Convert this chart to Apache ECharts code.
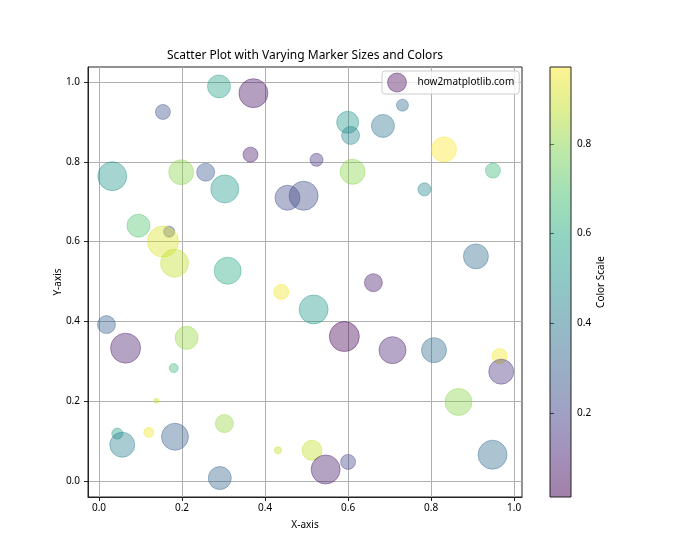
<!DOCTYPE html>
<html><head><meta charset="utf-8">
<script src="https://cdn.jsdelivr.net/npm/echarts@6/dist/echarts.min.js"></script>
<style>html,body{margin:0;padding:0;background:#fff}#c{width:700px;height:560px}</style>
</head><body><div id="c"></div>
<script>
// ---- data ----
const xs = [0.289,0.372,0.154,0.365,0.032,0.198,0.257,0.303,0.454,0.493,
            0.095,0.169,0.154,0.182,0.310,0.731,0.599,0.606,0.684,0.831,
            0.524,0.611,0.949,0.784,0.908,0.439,0.517,0.018,0.064,0.211,
            0.180,0.138,0.044,0.056,0.120,0.183,0.302,0.291,0.431,0.513,
            0.661,0.591,0.707,0.807,0.965,0.969,0.866,0.948,0.546,0.600];
const ys = [0.989,0.972,0.925,0.818,0.764,0.774,0.774,0.732,0.710,0.715,
            0.640,0.625,0.600,0.546,0.527,0.942,0.899,0.866,0.890,0.831,
            0.805,0.775,0.778,0.731,0.563,0.474,0.430,0.392,0.333,0.359,
            0.283,0.201,0.119,0.091,0.122,0.111,0.144,0.0075,0.077,0.077,
            0.497,0.362,0.328,0.328,0.313,0.274,0.198,0.066,0.029,0.048];
const sizes = [23,29,15,15,29,25,18,28,25,29,
               23,11,31,28,27,12,22,18,23,25,
               13,25,15,13,25,15,29,18,30,23,
               9,5,11,25,10,27,18,23,7,20,
               18,30,27,25,15,25,27,29,29,15];
const cvals = [0.55,0.05,0.25,0.08,0.50,0.80,0.27,0.52,0.22,0.22,
               0.70,0.22,0.92,0.88,0.60,0.35,0.50,0.45,0.38,0.972,
               0.15,0.80,0.65,0.45,0.35,0.95,0.52,0.30,0.08,0.82,
               0.65,0.90,0.55,0.42,0.95,0.30,0.82,0.32,0.88,0.88,
               0.08,0.012,0.10,0.35,0.96,0.15,0.80,0.35,0.08,0.20];
const xTicks = [0.0,0.2,0.4,0.6,0.8,1.0];
const yTicks = [0.0,0.2,0.4,0.6,0.8,1.0];
const cTicks = [0.2,0.4,0.6,0.8];
const seriesName = 'how2matplotlib.com';

// ---- colour map ----
const VIR = ['#440154','#482475','#414487','#355f8d','#2a788e','#21918c','#22a884','#44bf70','#7ad151','#bddf26','#fde725'];
function hex(h){return [parseInt(h.slice(1,3),16),parseInt(h.slice(3,5),16),parseInt(h.slice(5,7),16)];}
function viridis(t){
  t=Math.max(0,Math.min(1,t));
  const p=t*(VIR.length-1), i=Math.min(Math.floor(p),VIR.length-2), f=p-i;
  const a=hex(VIR[i]), b=hex(VIR[i+1]);
  return a.map((v,k)=>Math.round(v+(b[k]-v)*f));
}
function rgba(t,a){const c=viridis(t);return 'rgba('+c[0]+','+c[1]+','+c[2]+','+a+')';}
const cmin=Math.min(...cvals), cmax=Math.max(...cvals);
const norm=v=>(v-cmin)/(cmax-cmin);

const FONT='Noto Sans';
const data = xs.map((x,i)=>({
  value:[x,ys[i]],
  symbolSize:sizes[i],
  itemStyle:{color:rgba(norm(cvals[i]),0.5),borderColor:rgba(norm(cvals[i]),0.5),borderWidth:1}
}));
const stops=[];
for(let k=0;k<=40;k++){stops.push({offset:k/40,color:rgba(1-k/40,0.5)});}

const chart = echarts.init(document.getElementById('c'),null,{renderer:'canvas'});
const axisText={color:'#000',fontFamily:FONT,fontSize:10};
const nameText={color:'#000',fontFamily:FONT,fontSize:10};
chart.setOption({
  animation:false,
  backgroundColor:'#fff',
  graphic:[{type:'text',x:305,y:56,style:{text:'Scatter Plot with Varying Marker Sizes and Colors',
    fill:'#000',font:'12px "Noto Sans"',textAlign:'center',textVerticalAlign:'middle'}}],
  legend:{
    data:[{name:seriesName,icon:'circle',itemStyle:{color:rgba(0,0.5),borderColor:rgba(0,0.5),borderWidth:1}}],
    left:382, top:71, itemWidth:19, itemHeight:19, padding:[1.5,5,1.5,5],
    backgroundColor:'rgba(255,255,255,0.8)', borderColor:'#cccccc', borderWidth:1, borderRadius:3,
    textStyle:{color:'#000',fontFamily:FONT,fontSize:10,padding:[0,0,0,6]}
  },
  grid:[
    {left:88,top:67,width:434,height:430,show:true,borderColor:'#222',borderWidth:1,backgroundColor:'transparent'},
    {left:550,top:67,width:21,height:430,show:false}
  ],
  xAxis:[
    {type:'value',gridIndex:0,min:-0.0265,max:1.019,
     name:'X-axis',nameLocation:'middle',nameGap:23,nameMoveOverlap:false,nameTextStyle:nameText,
     axisLine:{show:true,onZero:false,lineStyle:{color:'#222',width:1}},
     axisTick:{show:true,length:4,lineStyle:{color:'#222'},customValues:xTicks},
     axisLabel:Object.assign({customValues:xTicks,margin:6,formatter:v=>v.toFixed(1)},axisText),
     splitLine:{show:true,lineStyle:{color:'#b0b0b0',width:1}}},
    {type:'value',gridIndex:1,min:0,max:1,show:false}
  ],
  yAxis:[
    {type:'value',gridIndex:0,min:-0.04,max:1.0376,
     name:'Y-axis',nameLocation:'middle',nameGap:25,nameRotate:90,nameMoveOverlap:false,nameTextStyle:nameText,
     axisLine:{show:true,onZero:false,lineStyle:{color:'#222',width:1}},
     axisTick:{show:true,length:4,lineStyle:{color:'#222'},customValues:yTicks},
     axisLabel:Object.assign({customValues:yTicks,margin:8,formatter:v=>v.toFixed(1)},axisText),
     splitLine:{show:true,lineStyle:{color:'#b0b0b0',width:1}}},
    {type:'value',gridIndex:1,min:cmin,max:cmax,position:'right',
     name:'Color Scale',nameLocation:'middle',nameGap:25,nameRotate:90,nameMoveOverlap:false,nameTextStyle:nameText,
     axisLine:{show:false},
     axisTick:{show:true,length:4,lineStyle:{color:'#222'},customValues:cTicks},
     axisLabel:Object.assign({customValues:cTicks,margin:6,formatter:v=>v.toFixed(1)},axisText),
     splitLine:{show:false}}
  ],
  series:[
    {type:'scatter',name:seriesName,xAxisIndex:0,yAxisIndex:0,symbol:'circle',data:data},
    {type:'custom',xAxisIndex:1,yAxisIndex:1,data:[[0,0]],silent:true,
     renderItem:(params,api)=>{
       const p0=api.coord([0,cmax]), p1=api.coord([1,cmin]);
       return {type:'rect',shape:{x:p0[0],y:p0[1],width:p1[0]-p0[0],height:p1[1]-p0[1]},
         style:{fill:new echarts.graphic.LinearGradient(0,0,0,1,stops),stroke:'#222',lineWidth:1}};
     }}
  ]
});
</script></body></html>
